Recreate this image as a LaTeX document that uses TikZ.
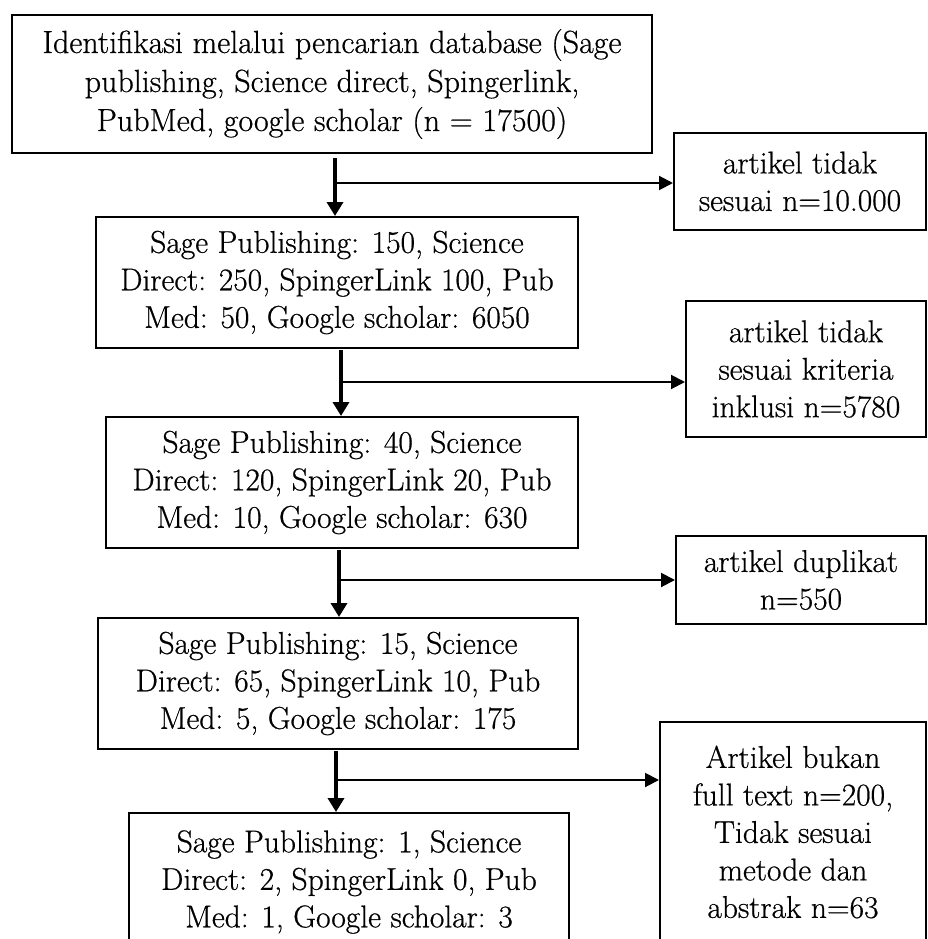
\documentclass[tikz,border=0pt]{standalone}
\usepackage{fontspec}
\setmainfont{Latin Modern Roman}[FakeBold=0.6]
\usetikzlibrary{arrows.meta}
\begin{document}
\begin{tikzpicture}[x=1pt,y=-1pt,
  box/.style={draw, line width=2pt, inner sep=0pt, align=center, anchor=north west,
    font=\fontsize{31.5}{37.5}\selectfont},
  down/.style={line width=4.5pt, -{Triangle[length=14pt,width=16pt]}},
  side/.style={line width=2pt, -{Triangle[length=14pt,width=14pt]}}]
\useasboundingbox (0,0) rectangle (927,939);
\clip (0,0) rectangle (927,939);
% main column
\node[box, minimum width=640, minimum height=138, font=\fontsize{32}{39}\selectfont] (b1) at (11,14)
  {Identifikasi melalui pencarian database (Sage\\ publishing, Science direct, Spingerlink,\\ PubMed, google scholar (n = 17500)};
\node[box, minimum width=482, minimum height=131] (b2) at (95,216)
  {Sage Publishing: 150, Science\\ Direct: 250, SpingerLink 100, Pub\\ Med: 50, Google scholar: 6050};
\node[box, minimum width=472, minimum height=131] (b3) at (105,416)
  {Sage Publishing: 40, Science\\ Direct: 120, SpingerLink 20, Pub\\ Med: 10, Google scholar: 630};
\node[box, minimum width=480, minimum height=131] (b4) at (97,617)
  {Sage Publishing: 15, Science\\ Direct: 65, SpingerLink 10, Pub\\ Med: 5, Google scholar: 175};
\node[box, minimum width=440, minimum height=138] (b5) at (128,812)
  {Sage Publishing: 1, Science\\ Direct: 2, SpingerLink 0, Pub\\ Med: 1, Google scholar: 3};
% side boxes
\node[box, minimum width=252, minimum height=97] (r1) at (673,132)
  {artikel tidak\\ sesuai n=10.000};
\node[box, minimum width=240, minimum height=136] (r2) at (685,300)
  {artikel tidak\\ sesuai kriteria\\ inklusi n=5780};
\node[box, minimum width=250, minimum height=88] (r3) at (675,535)
  {artikel duplikat\\ n=550};
\node[box, minimum width=266, minimum height=220] (r4) at (659,721)
  {Artikel bukan\\ full text n=200,\\ Tidak sesuai\\ metode dan\\ abstrak n=63};
% connectors
\coordinate (a1) at (335,158);
\coordinate (j1) at (335,183);
\draw[down] (a1) -- (a1 |- b2.north);
\draw[side] (j1) -- (j1 -| r1.west);
\coordinate (a2) at (341,350);
\coordinate (j2) at (341,382);
\draw[down] (a2) -- (a2 |- b3.north);
\draw[side] (j2) -- (j2 -| r2.west);
\coordinate (a3) at (339,550);
\coordinate (j3) at (339,580);
\draw[down] (a3) -- (a3 |- b4.north);
\draw[side] (j3) -- (j3 -| r3.west);
\coordinate (a4) at (336,751);
\coordinate (j4) at (336,780);
\draw[down] (a4) -- (a4 |- b5.north);
\draw[side] (j4) -- (j4 -| r4.west);
\end{tikzpicture}
\end{document}
